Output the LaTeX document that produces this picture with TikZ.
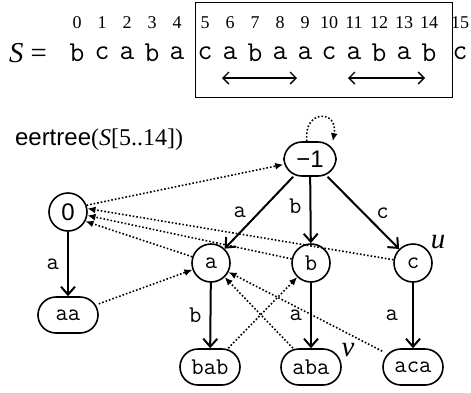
\documentclass[tikz,border=0pt]{standalone}
\usepackage{fontspec}
\setmainfont{Liberation Serif}
\setsansfont{Liberation Sans}
\usetikzlibrary{arrows.meta, positioning}
\tikzset{
  state/.style={draw, thick, circle, minimum size=19pt, inner sep=0pt, font=\large\ttfamily},
  pal/.style={draw, thick, rounded corners=9pt, minimum width=30pt, minimum height=18pt, inner sep=2pt, font=\large\ttfamily},
  edge/.style={-{Straight Barb[length=4pt,width=7pt]}, line width=1pt},
  link/.style={densely dotted, line width=0.8pt, -{Latex[length=4pt,width=3.5pt]}},
  lab/.style={font=\large\ttfamily, inner sep=1pt}
}

\begin{document}
\begin{tikzpicture}[x=0.5pt, y=0.5pt]
    \useasboundingbox (0,0) rectangle (471,-392);

    % String S with positions
    \node (eq) at (28,-53) {\Large\textit{S} =};
    \foreach \ch/\x [count=\i from 0] in {b/77, c/102, a/127, b/152, a/177,
        c/205, a/230, b/255, a/280, a/305, c/329, a/354, b/379, a/404, b/429, c/460} {
        \node[font=\Large\ttfamily] (s\i) at (\x,-53) {\ch};
        \node[font=\small] (i\i) at (\x,-23) {\i};
    }
    \draw (195,-2) rectangle (452,-97);

    % Palindromes in the window
    \coordinate (l1) at (222,-78);
    \coordinate (r1) at (297,-78);
    \coordinate (l2) at (348,-78);
    \coordinate (r2) at (425,-78);
    \draw[{Straight Barb[length=3pt]}-{Straight Barb[length=3pt]}, line width=0.7pt] (l1) -- (r1);
    \draw[{Straight Barb[length=3pt]}-{Straight Barb[length=3pt]}, line width=0.7pt] (l2) -- (r2);

    % Tree
    \node[anchor=west] (title) at (8,-140) {\large\textsf{eertree}(\textit{S}[5..14])};
    \node[pal, font=\large\sffamily, minimum width=26pt, minimum height=17pt] (nm1) at (310,-159) {−1};
    \node[state, font=\large\sffamily] (n0) at (68,-212) {0};
    \node[state] (na) at (211,-263) {a};
    \node[state] (nb) at (311,-263) {b};
    \node[state] (nc) at (413,-263) {c};
    \node[pal] (naa) at (68,-315) {aa};
    \node[pal] (nbab) at (210,-367) {bab};
    \node[pal] (naba) at (311,-367) {aba};
    \node[pal] (naca) at (413,-367) {aca};
    \node (u) at (438,-242) {\Large\textit{u}};
    \node (v) at (348,-350) {\Large\textit{v}};

    % Edges
    \draw[edge] (nm1) -- (na) node[lab, midway, left=5pt] {a};
    \draw[edge] (nm1) -- (nb) node[lab, pos=0.45, left=3pt] {b};
    \draw[edge] (nm1) -- (nc) node[lab, midway, right=5pt] {c};
    \draw[edge] (n0) -- (naa) node[lab, midway, left=3pt] {a};
    \draw[edge] (na) -- (nbab) node[lab, midway, left=3pt] {b};
    \draw[edge] (nb) -- (naba) node[lab, midway, left=3pt] {a};
    \draw[edge] (nc) -- (naca) node[lab, midway, left=6pt] {a};

    % Suffix links
    \draw[link] (n0.20) -- (nm1);
    \draw[link] (nm1.100) .. controls +(-4,32) and +(6,32) .. (nm1.38);
    \draw[link] (na) -- (n0.-28);
    \draw[link] (nb) -- (n0.-10);
    \draw[link] (nc) -- (n0.10);
    \draw[link] (naa) -- (na);
    \draw[link] (nbab) -- (nb);
    \draw[link] (naba) -- (na);
    \draw[link] (naca) -- (na);
\end{tikzpicture}
\end{document}
